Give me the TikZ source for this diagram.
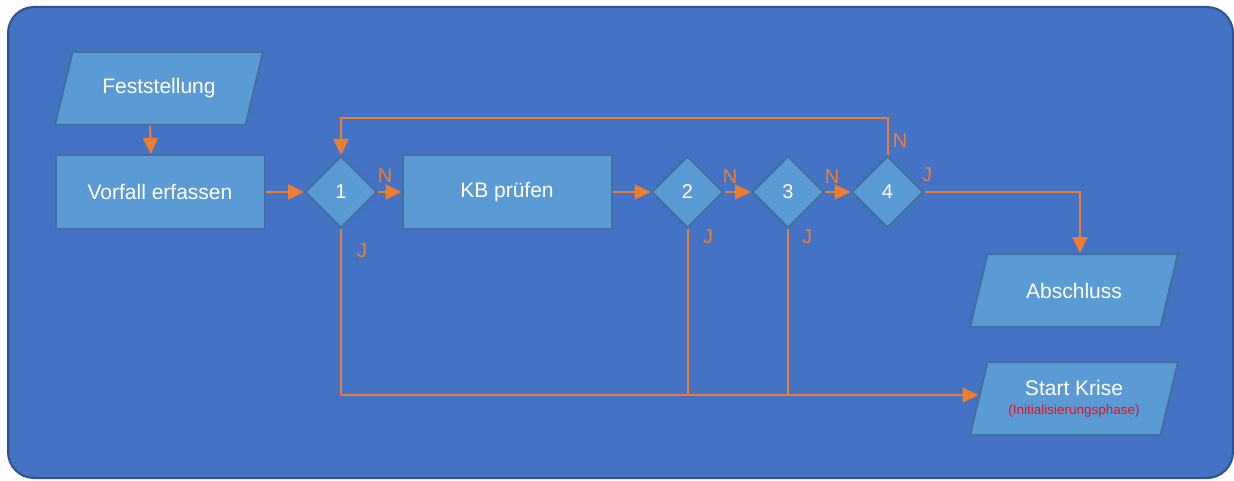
\documentclass[tikz,border=0pt]{standalone}
\usepackage{fontspec}
\setmainfont{Liberation Sans}
\usetikzlibrary{arrows.meta,calc,shapes.geometric}
\definecolor{bgfill}{HTML}{4472C4}
\definecolor{bgline}{HTML}{2F528F}
\definecolor{boxfill}{HTML}{5B9BD5}
\definecolor{boxline}{HTML}{41719C}
\definecolor{flow}{HTML}{ED7D31}
\definecolor{note}{HTML}{E3121E}

% parallelogram (input/output) block: outline first, then the named text node
\newcommand\ioblock[3]{%
  \draw[ioshape] ($#2+(-86.5,-36.5)$) -- ($#2+(104,-36.5)$)
    -- ($#2+(86.5,36.5)$) -- ($#2+(-104,36.5)$) -- cycle;
  \node[iotext] (#1) at #2 {#3};}

\begin{document}
\begin{tikzpicture}[x=1pt,y=-1pt,
  box/.style={rectangle, draw=boxline, fill=boxfill, line width=2pt,
    minimum width=209pt, minimum height=74pt, inner sep=0pt,
    text=white, font=\fontsize{21}{25}\selectfont},
  ioshape/.style={draw=boxline, fill=boxfill, line width=2pt},
  iotext/.style={rectangle, line width=2pt, minimum width=190pt,
    minimum height=73pt, inner sep=0pt, align=center,
    text=white, font=\fontsize{21}{25}\selectfont},
  choice/.style={diamond, draw=boxline, fill=boxfill, line width=2pt,
    minimum width=72pt, minimum height=72pt, inner sep=0pt,
    text=white, font=\fontsize{20}{24}\selectfont},
  flowline/.style={draw=flow, line width=2pt},
  arr/.style={flowline, -{Triangle[length=16pt,width=15pt]}},
  lab/.style={text=flow, font=\fontsize{20}{24}\selectfont, inner sep=0pt},
]
\useasboundingbox (0,0) rectangle (1234,481);

% panel
\draw[bgline, fill=bgfill, line width=2pt, rounded corners=26pt]
  (8,7) rectangle (1233,478);

% steps
\ioblock{fest}{(159,88.5)}{Feststellung}
\node[box] (vorf) at (160,192) {Vorfall erfassen};
\node[choice] (d1) at (341,192) {1};
\node[box] (kb) at (507,192) {KB prüfen};
\node[choice] (d2) at (687.5,192) {2};
\node[choice] (d3) at (788,192) {3};
\node[choice] (d4) at (887.5,192) {4};
\ioblock{absch}{(1074,290.5)}{Abschluss}
\ioblock{start}{(1074,398.5)}{\rule{0pt}{13pt}Start Krise\\[-6pt]{\color{note}\fontsize{13.5}{15}\selectfont(Initialisierungsphase)}}

% main flow
\draw[arr] ([xshift=-9pt]fest.south) -- ([xshift=-9pt]vorf.north);
\draw[arr] (vorf) -- (d1);
\draw[arr] (d1) -- (kb);
\draw[arr] (kb) -- (d2);
\draw[arr] (d2) -- (d3);
\draw[arr] (d3) -- (d4);
\draw[arr] (d4.north) -- ++(0,-37) -| (d1.north);
\draw[arr] (d4.east) -| ([xshift=6pt]absch.north);

% escalation branch, ending on the slanted left side of "Start Krise"
\coordinate (jin) at ($(start.center)+(-95.5,-3.5)$);
\draw[arr] (d1.south) |- (jin);
\draw[flowline] (d2.south) -- (d2.south |- jin);
\draw[flowline] (d3.south) -- (d3.south |- jin);

% branch labels
\node[lab] (n1) at (385,176) {N};
\node[lab] (j1) at (362,251) {J};
\node[lab] (n2) at (730,177) {N};
\node[lab] (j2) at (708,237) {J};
\node[lab] (n3) at (832,177) {N};
\node[lab] (j3) at (807,237) {J};
\node[lab] (n4) at (900,141) {N};
\node[lab] (j4) at (927,175) {J};
\end{tikzpicture}
\end{document}
